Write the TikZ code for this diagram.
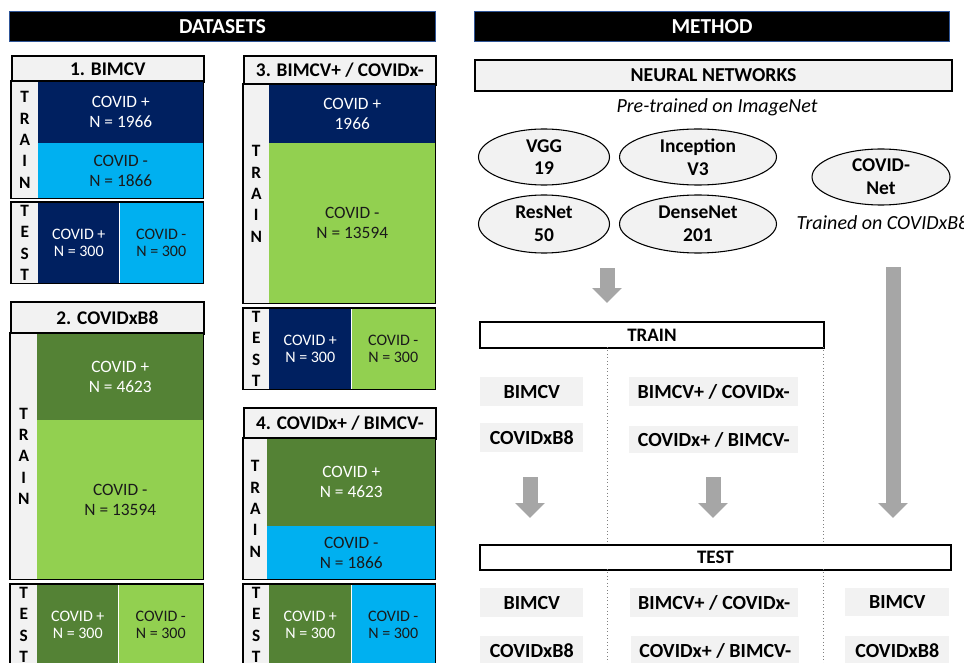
\documentclass[tikz,border=0pt]{standalone}
\usepackage{fontspec}
\setmainfont{Carlito}
\usetikzlibrary{shapes.geometric,arrows.meta}
\definecolor{navy}{HTML}{002060}
\definecolor{lblue}{HTML}{00B0F0}
\definecolor{lgreen}{HTML}{92D050}
\definecolor{dgreen}{HTML}{548235}
\definecolor{pale}{HTML}{F2F2F2}
\definecolor{arrowgray}{HTML}{A6A6A6}
\definecolor{darktxt}{HTML}{1A1A1A}
\definecolor{barblue}{HTML}{2F5597}
\newcommand{\bx}[7]{\node[anchor=north west, inner sep=0pt, align=center,
  minimum width={(#4-#2)*0.75pt}, minimum height={(#5-#3)*0.75pt}, #6] (#1) at (#2,#3) {#7};}
\tikzset{
  bar/.style={fill=black, draw=barblue, line width=0.8pt, text=white, font=\bfseries\fontsize{16}{18}\selectfont},
  ttl/.style={fill=pale, draw=black, line width=1.3pt, font=\bfseries\fontsize{14.5}{17}\selectfont},
  strip/.style={fill=pale, font=\bfseries\fontsize{13}{16}\selectfont},
  trainfont/.style={font=\fontsize{13}{15}\selectfont},
  testfont/.style={font=\fontsize{12}{13.3}\selectfont},
  navycell/.style={fill=navy, text=white},
  bluecell/.style={fill=lblue, text=darktxt},
  lgcell/.style={fill=lgreen, text=darktxt},
  dgcell/.style={fill=dgreen, text=white},
  frame/.style={draw=black, line width=1.4pt},
  sep/.style={draw=white, line width=0.6pt},
  nnbox/.style={fill=pale, draw=black, line width=1.6pt, font=\bfseries\fontsize{14.8}{17}\selectfont},
  phase/.style={fill=white, draw=black, line width=1.4pt, font=\bfseries\fontsize{14.3}{16}\selectfont},
  lbl/.style={fill=pale, font=\bfseries\fontsize{15}{17}\selectfont},
  net/.style={ellipse, draw=black, fill=pale, line width=0.8pt, inner sep=0pt, align=center,
    font=\bfseries\fontsize{14.6}{17}\selectfont},
  note/.style={font=\itshape\fontsize{15}{17}\selectfont},
  bigarrow/.style={draw=arrowgray, line width=11.25pt,
    -{Triangle[width=21.75pt, length=11.25pt]}},
  divider/.style={draw=gray, dotted, line width=0.6pt}
}
\begin{document}
\begin{tikzpicture}[x=0.75pt, y=-0.75pt]
\useasboundingbox (0,0) rectangle (964,663);

% headers
\bx{ds}{9}{11}{435}{41}{bar}{DATASETS}
\bx{me}{474}{11}{949}{41}{bar}{METHOD}

% ---- Dataset 1
\bx{t1}{11}{55}{203}{81}{ttl}{1. BIMCV}
\bx{s1a}{11}{81}{38}{198}{strip}{T\\R\\A\\I\\N}
\bx{c1a}{38}{81}{203}{143}{navycell,trainfont}{COVID +\\N = 1966}
\bx{c1b}{38}{143}{203}{198}{bluecell,trainfont}{COVID -\\N = 1866}
\draw[frame] (s1a.north west) rectangle (c1b.south east);
\bx{s1b}{11}{202}{38}{283}{strip}{T\\E\\S\\T}
\bx{c1c}{38}{202}{119}{283}{navycell,testfont}{COVID +\\N = 300}
\bx{c1d}{119}{202}{203}{283}{bluecell,testfont}{COVID -\\N = 300}
\draw[sep] (c1c.north east) -- (c1c.south east);
\draw[frame] (s1b.north west) rectangle (c1d.south east);

% ---- Dataset 3
\bx{t3}{243}{55}{435}{84}{ttl}{3. BIMCV+ / COVIDx-}
\bx{s3a}{243}{84}{269}{303}{strip}{T\\R\\A\\I\\N}
\bx{c3a}{269}{84}{435}{143}{navycell,trainfont}{COVID +\\1966}
\bx{c3b}{269}{143}{435}{303}{lgcell,trainfont}{COVID -\\N = 13594}
\draw[frame] (s3a.north west) rectangle (c3b.south east);
\bx{s3b}{243}{308}{269}{389}{strip}{T\\E\\S\\T}
\bx{c3c}{269}{308}{351}{389}{navycell,testfont}{COVID +\\N = 300}
\bx{c3d}{351}{308}{435}{389}{lgcell,testfont}{COVID -\\N = 300}
\draw[sep] (c3c.north east) -- (c3c.south east);
\draw[frame] (s3b.north west) rectangle (c3d.south east);

% ---- Dataset 2
\bx{t2}{10}{301}{203}{333}{ttl}{2. COVIDxB8}
\bx{s2a}{10}{333}{37}{579}{strip}{T\\R\\A\\I\\N}
\bx{c2a}{37}{333}{203}{420}{dgcell,trainfont}{COVID +\\N = 4623}
\bx{c2b}{37}{420}{203}{579}{lgcell,trainfont}{COVID -\\N = 13594}
\draw[frame] (s2a.north west) rectangle (c2b.south east);
\bx{s2b}{10}{584}{37}{665}{strip}{T\\E\\S\\T}
\bx{c2c}{37}{584}{118}{665}{dgcell,testfont}{COVID +\\N = 300}
\bx{c2d}{118}{584}{203}{665}{lgcell,testfont}{COVID -\\N = 300}
\draw[sep] (c2c.north east) -- (c2c.south east);
\draw[frame] (s2b.north west) rectangle (c2d.south east);

% ---- Dataset 4
\bx{t4}{243}{407}{435}{438}{ttl}{4. COVIDx+ / BIMCV-}
\bx{s4a}{243}{438}{267}{579}{strip}{T\\R\\A\\I\\N}
\bx{c4a}{267}{438}{435}{526}{dgcell,trainfont}{COVID +\\N = 4623}
\bx{c4b}{267}{526}{435}{579}{bluecell,trainfont}{COVID -\\N = 1866}
\draw[frame] (s4a.north west) rectangle (c4b.south east);
\bx{s4b}{243}{584}{269}{665}{strip}{T\\E\\S\\T}
\bx{c4c}{269}{584}{351}{665}{dgcell,testfont}{COVID +\\N = 300}
\bx{c4d}{351}{584}{435}{665}{bluecell,testfont}{COVID -\\N = 300}
\draw[sep] (c4c.north east) -- (c4c.south east);
\draw[frame] (s4b.north west) rectangle (c4d.south east);

% ---- Method
\bx{nn}{474}{59}{951}{90}{nnbox}{NEURAL NETWORKS}
\node[note] (pre) at (717,107) {Pre-trained on ImageNet};
\node[net, minimum width=98.25pt, minimum height=42pt] (vgg) at (544,157) {VGG\\19};
\node[net, minimum width=117.75pt, minimum height=42pt] (inc) at (698,157) {Inception\\V3};
\node[net, minimum width=98.25pt, minimum height=43.5pt] (res) at (544,224) {ResNet\\50};
\node[net, minimum width=117.75pt, minimum height=43.5pt] (den) at (698,224) {DenseNet\\201};
\node[net, minimum width=103.5pt, minimum height=42pt] (cnet) at (881,177) {COVID-\\Net};
\node[note, anchor=west] (trn) at (792,223) {Trained on COVIDxB8};

\coordinate (a1s) at (607,268);
\coordinate (a1e) at (607,303);
\draw[bigarrow] (a1s) -- (a1e);
\coordinate (a2s) at (893,267);
\coordinate (a2e) at (893,518);
\draw[bigarrow] (a2s) -- (a2e);

\bx{train}{479}{321}{823}{347}{phase}{TRAIN}
\bx{test}{479}{544}{950}{569}{phase}{TEST}

\coordinate (d1a) at (607,347);
\coordinate (d1b) at (607,544);
\coordinate (d1c) at (607,569);
\coordinate (d1d) at (607,663);
\coordinate (d2a) at (823,347);
\coordinate (d2b) at (823,544);
\coordinate (d2c) at (823,569);
\coordinate (d2d) at (823,663);
\draw[divider] (d1a) -- (d1b);
\draw[divider] (d1c) -- (d1d);
\draw[divider] (d2a) -- (d2b);
\draw[divider] (d2c) -- (d2d);

\bx{l1}{480}{377}{583}{406}{lbl}{BIMCV}
\bx{l2}{480}{423}{583}{452}{lbl}{COVIDxB8}
\bx{l3}{629}{377}{798}{406}{lbl}{BIMCV+ / COVIDx-}
\bx{l4}{629}{426}{798}{453}{lbl}{COVIDx+ / BIMCV-}

\coordinate (a3s) at (530,477);
\coordinate (a3e) at (530,518);
\draw[bigarrow] (a3s) -- (a3e);
\coordinate (a4s) at (713,477);
\coordinate (a4e) at (713,518);
\draw[bigarrow] (a4s) -- (a4e);

\bx{m1}{480}{588}{583}{617}{lbl}{BIMCV}
\bx{m2}{480}{636}{583}{665}{lbl}{COVIDxB8}
\bx{m3}{630}{588}{798}{617}{lbl}{BIMCV+ / COVIDx-}
\bx{m4}{631}{636}{799}{665}{lbl}{COVIDx+ / BIMCV-}
\bx{m5}{845}{588}{949}{616}{lbl}{BIMCV}
\bx{m6}{845}{636}{949}{665}{lbl}{COVIDxB8}
\end{tikzpicture}
\end{document}
